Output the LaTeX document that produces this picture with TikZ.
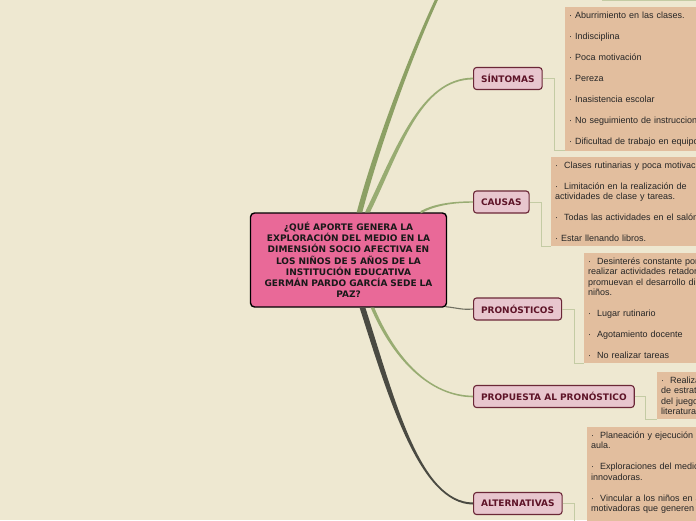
\documentclass[tikz,border=0pt]{standalone}
\usepackage{fontspec}
\setmainfont{Liberation Sans}
\newfontfamily\verd{DejaVu Sans}
\usepackage{tikz}
\usetikzlibrary{positioning, calc}
\definecolor{PaperCream}{RGB}{238, 232, 209}
\definecolor{RootPink}{RGB}{233, 105, 152}
\definecolor{TopicFill}{RGB}{232, 198, 206}
\definecolor{TopicLine}{RGB}{107, 39, 55}
\definecolor{TopicText}{RGB}{94, 20, 40}
\definecolor{LeafTan}{RGB}{226, 190, 158}
\definecolor{LeafLink}{RGB}{196, 203, 164}
\definecolor{OliveGreen}{RGB}{140, 160, 100}
\definecolor{SageGreen}{RGB}{152, 172, 114}
\definecolor{AshGray}{RGB}{112, 112, 98}
\definecolor{CharcoalGray}{RGB}{74, 74, 66}
\tikzset{
  root/.style={rectangle, rounded corners=4pt, draw=black, line width=1.4pt,
    fill=RootPink, text width=190pt, align=center, minimum height=94pt,
    inner sep=3pt, font=\verd\bfseries\fontsize{9}{11.2}\selectfont,
    text=black!90},
  topic/.style={rectangle, rounded corners=3pt, draw=TopicLine,
    line width=1.1pt, fill=TopicFill, minimum height=22pt, inner xsep=7.5pt,
    inner ysep=2pt, font=\verd\bfseries\fontsize{9}{10}\selectfont,
    text=TopicText, anchor=west},
  leaf/.style={rectangle, fill=LeafTan, anchor=north west, align=left,
    text width=260pt, inner xsep=4pt, inner ysep=4.5pt,
    font=\fontsize{9}{10.5}\selectfont, text=black!85},
  twig/.style={draw=LeafLink, line width=1pt},
}
% tapered branch: colour, start, control 1, control 2, end, start offset, end offset
\newcommand{\limb}[7]{%
  \fill[#1] ($(#2)+(#6)$) .. controls ($(#3)+(#6)$) and ($(#4)+(#7)$) .. ($(#5)+(#7)$)
    -- ($(#5)-(#7)$) .. controls ($(#4)-(#7)$) and ($(#3)-(#6)$) .. ($(#2)-(#6)$) -- cycle;}

\begin{document}
\begin{tikzpicture}[x=1pt, y=-1pt]
  \useasboundingbox (0,0) rectangle (696,520);
  \clip (0,0) rectangle (696,520);
  \fill[PaperCream] (0,0) rectangle (696,520);
  \fill[LeafTan] (602,-10) rectangle (700,0.5);
  \draw[twig] (602,0.5) -- (700,0.5);

  \node[root] (q) at (348.5,260)
    {¿QUÉ APORTE GENERA LA\\EXPLORACIÓN DEL MEDIO EN LA\\DIMENSIÓN SOCIO AFECTIVA EN\\
     LOS NIÑOS DE 5 AÑOS DE LA\\INSTITUCIÓN EDUCATIVA\\GERMÁN PARDO GARCÍA SEDE LA\\PAZ?};

  \node[topic] (sint) at (473,78.5) {SÍNTOMAS};
  \node[topic] (caus) at (473,202) {CAUSAS};
  \node[topic] (pron) at (473,309) {PRONÓSTICOS};
  \node[topic] (prop) at (473,396.5) {PROPUESTA AL PRONÓSTICO};
  \node[topic] (alte) at (473,503.5) {ALTERNATIVAS};

  \node[leaf] (sintL) at (565,7)
    {· Aburrimiento en las clases.\\[10.5pt]· Indisciplina\\[10.5pt]· Poca motivación\\[10.5pt]
     · Pereza\\[10.5pt]· Inasistencia escolar\\[10.5pt]· No seguimiento de instrucciones.\\[10.5pt]
     · Dificultad de trabajo en equipo.};
  \node[leaf] (causL) at (551,157)
    {·~ Clases rutinarias y poca motivación.\\[10.5pt]·~ Limitación en la realización de\\
     actividades de clase y tareas.\\[10.5pt]·~ Todas las actividades en el salón.\\[10.5pt]
     · Estar llenando libros.};
  \node[leaf] (pronL) at (584,253)
    {·~ Desinterés constante por parte\\realizar actividades retadoras que\\
     promuevan el desarrollo dimensional\\niños.\\[10.5pt]·~ Lugar rutinario\\[10.5pt]
     ·~ Agotamiento docente\\[10.5pt]·~ No realizar tareas};
  \node[leaf] (propL) at (657,372)
    {·~ Realización\\de estrategias\\del juego,\\literatura};
  \node[leaf] (alteL) at (587,427)
    {·~ Planeación y ejecución de\\aula.\\[10.5pt]·~ Exploraciones del medio\\
     innovadoras.\\[10.5pt]·~ Vincular a los niños en actividades\\motivadoras que generen\\[30pt]\strut};

  % branches from the question
  \coordinate (up) at (441,-10);
  \coordinate (rT) at ($(q.north)+(11,0)$);
  \coordinate (rS) at ($(q.north)+(19,0)$);
  \coordinate (rC) at ($(q.north)+(72,0)$);
  \coordinate (rP) at ($(q.south east)+(-1.5,-1)$);
  \coordinate (rR) at ($(q.south)+(24,0)$);
  \coordinate (rA) at ($(q.south)+(14,0)$);
  \limb{OliveGreen}{rT}{376,150}{410,55}{up}{-2.8,0}{-1.6,0}
  \limb{SageGreen}{rS}{398,150}{420,79}{sint.west}{-2.5,0}{0,-0.9}
  \limb{SageGreen}{rC}{432,206}{448,202}{caus.west}{0,-1.2}{0,-0.7}
  \draw[AshGray, line width=1.1pt] (rP) .. controls (458,308) and (462,310) .. (pron.west);
  \limb{SageGreen}{rR}{395,360}{430,396}{prop.west}{1.8,0}{0,-0.8}
  \limb{CharcoalGray}{rA}{392,400}{420,503}{alte.west}{2.9,0}{0,-1}

  % topic to leaf
  \draw[twig] (sint.east) -- ++(12,0) |- (sintL.south west);
  \draw[twig] (caus.east) -- ++(12,0) |- (causL.south west);
  \draw[twig] (pron.east) -- ++(12,0) |- (pronL.south west);
  \draw[twig] (prop.east) -- ++(11,0) |- (propL.south west);
  \draw[twig] (alte.east) -- ++(12,0) |- (alteL.south west);
\end{tikzpicture}
\end{document}
